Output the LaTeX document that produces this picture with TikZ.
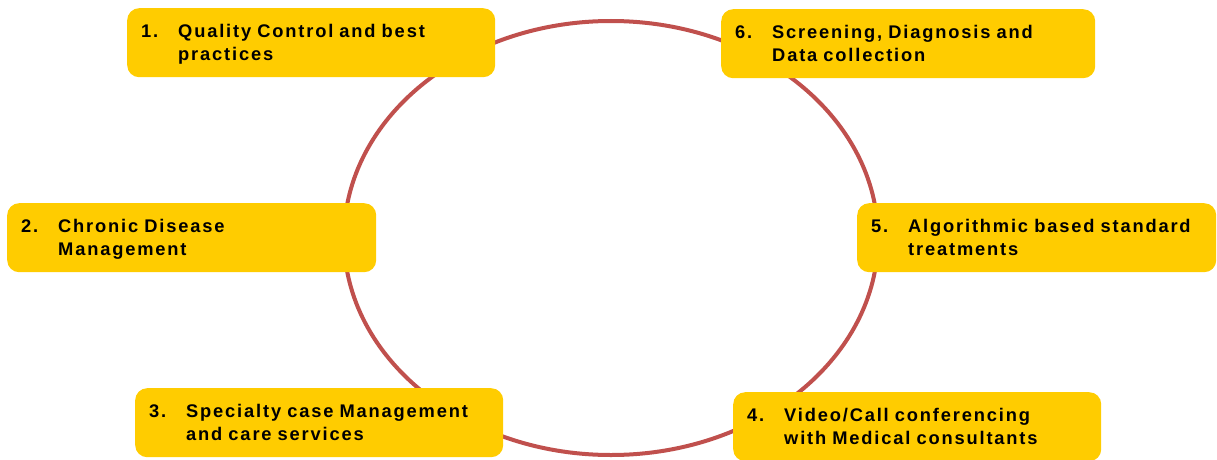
\documentclass[tikz,border=0pt]{standalone}
\usepackage{fontspec}
\setmainfont{Liberation Sans}
\newfontfamily\boxfont{Liberation Sans}[LetterSpace=10]
\usetikzlibrary{shapes.geometric}
\definecolor{boxyellow}{HTML}{FFCC00}
\definecolor{ringred}{HTML}{C0504D}
\newcommand{\itemtext}[2]{\hspace*{14pt}\makebox[37pt][l]{#1}\parbox[t]{310pt}{#2}}
\tikzset{
  ringstyle/.style={draw=ringred, line width=4pt, ellipse, inner sep=0pt},
  stepbox/.style={fill=boxyellow, rounded corners=12pt, anchor=north west,
    inner sep=0pt, align=left, text height=29pt, text depth=40pt,
    font=\boxfont\bfseries\fontsize{18.3}{23}\selectfont, text=black},
}
\begin{document}
\begin{tikzpicture}[x=1pt,y=-1pt]
\useasboundingbox (0,0) rectangle (1217,460);
\node[ringstyle, minimum width=534pt, minimum height=434pt] (ring) at (611,238) {};
\node[stepbox, text width=368pt] (b1) at (127,8) {\itemtext{1.}{Quality Control and best\\practices}};
\node[stepbox, text width=374pt] (b6) at (721,9) {\itemtext{6.}{Screening, Diagnosis and\\Data collection}};
\node[stepbox, text width=369pt] (b2) at (7,203) {\itemtext{2.}{Chronic Disease\\Management}};
\node[stepbox, text width=359pt] (b5) at (857,203) {\itemtext{5.}{Algorithmic based standard\\treatments}};
\node[stepbox, text width=368pt] (b3) at (135,388) {\itemtext{3.}{Specialty case Management\\and care services}};
\node[stepbox, text width=368pt] (b4) at (733,392) {\itemtext{4.}{Video/Call conferencing\\with Medical consultants}};
\end{tikzpicture}
\end{document}
